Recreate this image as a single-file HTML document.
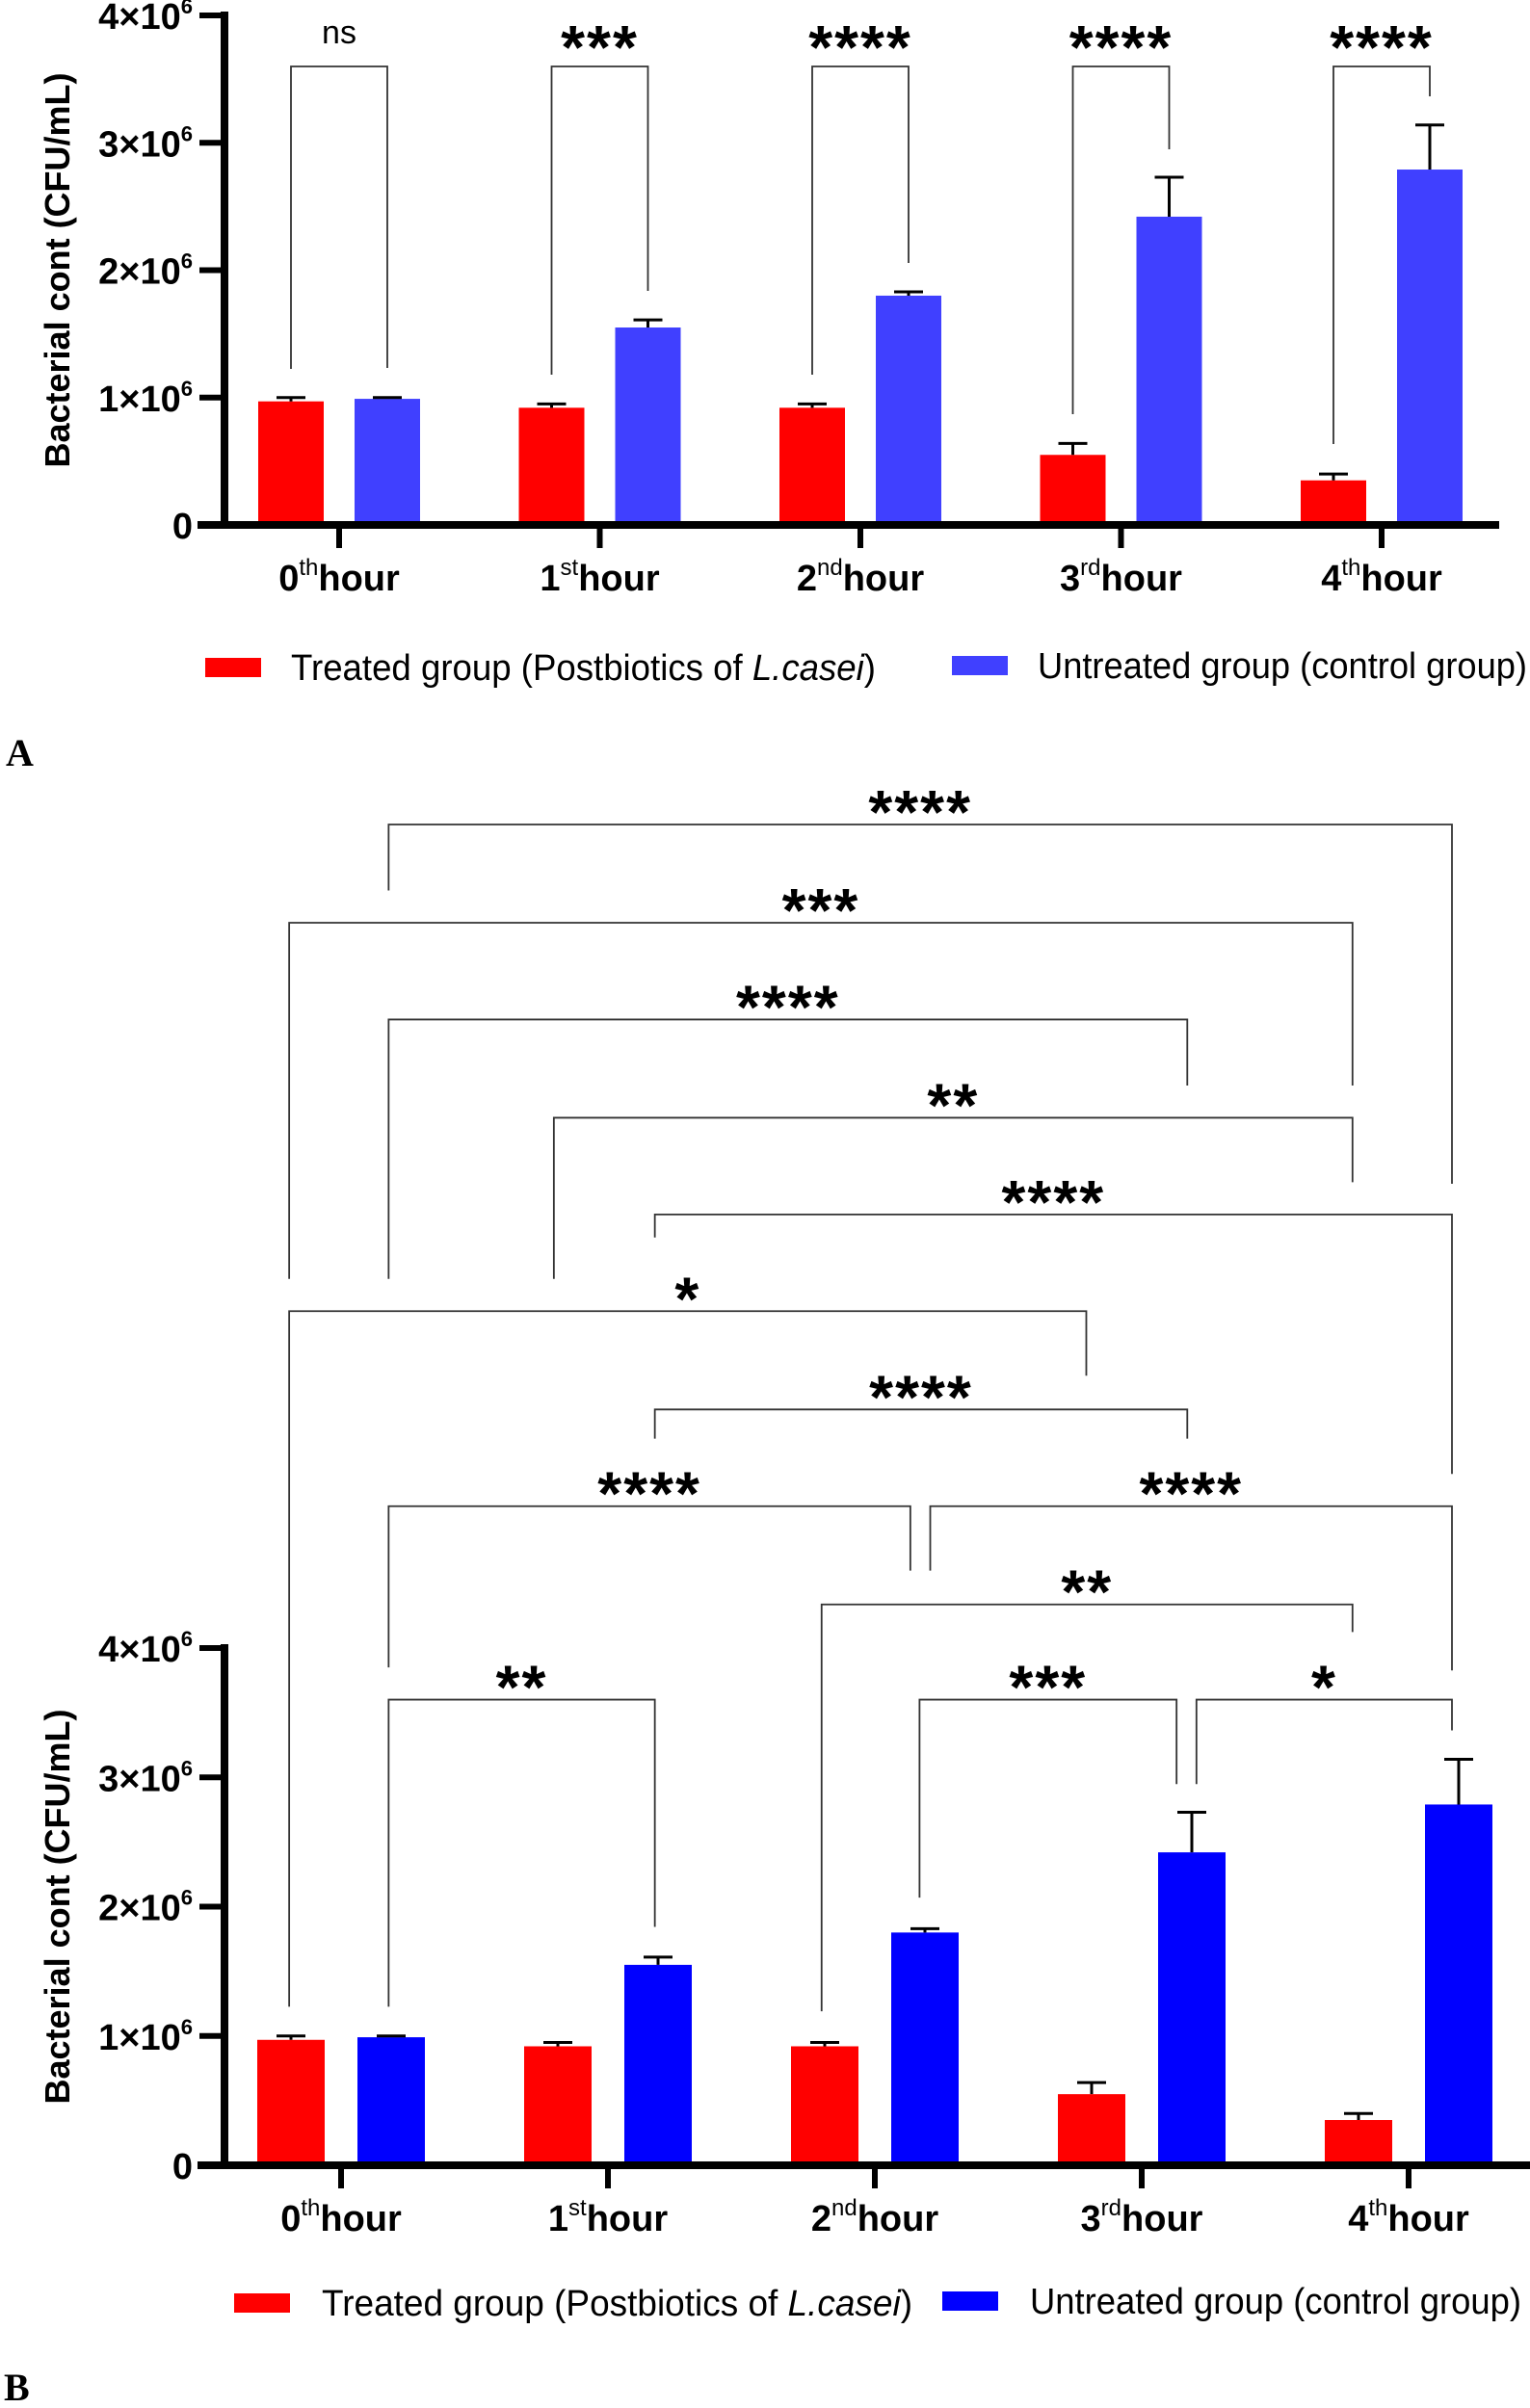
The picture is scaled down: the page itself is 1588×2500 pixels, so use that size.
<!DOCTYPE html>
<html><head><meta charset="utf-8"><style>
html,body{margin:0;padding:0;background:#fff;}
svg{display:block;}
text{font-family:"Liberation Sans Narrow","Liberation Sans",sans-serif;}
</style></head><body>
<svg id="fig" width="1588" height="2500" viewBox="0 0 1588 2500"></svg>
<script>
const categories = ["0","1","2","3","4"];
const sups = ["th","st","nd","rd","th"];
const treatedMean = [0.97, 0.92, 0.92, 0.55, 0.35];
const treatedErr = [0.03, 0.03, 0.03, 0.09, 0.05];
const controlMean = [0.99, 1.55, 1.80, 2.42, 2.79];
const controlErr = [0.01, 0.06, 0.03, 0.31, 0.35];
const yTicks = [0, 1, 2, 3, 4];
const yTickLabels = ["0","1×10","2×10","3×10","4×10"];
const sigA = ["ns","***","****","****","****"];

const NS = "http://www.w3.org/2000/svg";
const svg = document.getElementById("fig");
function mk(tag, attrs, parent){const e=document.createElementNS(NS,tag);for(const k in attrs)e.setAttribute(k,attrs[k]);(parent||svg).appendChild(e);return e;}

function drawPanel(cfg){
  const g = mk("g",{});
  
  
  const y = v => cfg.y0 - v*(cfg.y0-cfg.y4)/4;
  const gx = i => cfg.gx0 + i*cfg.gstep;
  categories.forEach((c,i)=>{
    const series=[[treatedMean,treatedErr,"#ff0000",-cfg.off,"treated"],[controlMean,controlErr,cfg.blue,cfg.off,"control"]];
    series.forEach(s=>{
      const cx=gx(i)+s[3], v=s[0][i], e=s[1][i];
      const r=mk("rect",{x:cx-cfg.bw/2,y:y(v),width:cfg.bw,height:cfg.y0-y(v),fill:s[2]},g);
      
      
      const eb=mk("path",{d:`M${cx},${y(v)} V${y(v+e)} M${cx-15},${y(v+e)} H${cx+15}`,stroke:"#000","stroke-width":3,fill:"none"},g);
      
      
    });
  });
  const ax=mk("path",{d:`M233,${cfg.y4-4} V${cfg.y0+4} M205,${cfg.y0} H${cfg.xEnd}`,stroke:"#000","stroke-width":8,fill:"none"},g);
  
  yTicks.forEach((t,i)=>{
    mk("path",{d:`M207,${y(t)} H233`,stroke:"#000","stroke-width":6},g);
    const tx=mk("text",{x:200,y:y(t)+14,"text-anchor":"end","font-size":38,"font-weight":"bold"},g);
    
    tx.textContent=yTickLabels[i];
    if(t>0){const sp=mk("tspan",{dy:-16,"font-size":22},tx);sp.textContent="6";}
  });
  categories.forEach((c,i)=>{
    mk("path",{d:`M${gx(i)},${cfg.y0} V${cfg.y0+24}`,stroke:"#000","stroke-width":6},g);
    const t=mk("text",{x:gx(i),y:cfg.y0+68,"text-anchor":"middle","font-size":38,"font-weight":"bold"},g);
    
    t.appendChild(document.createTextNode(c));
    const s=mk("tspan",{dy:-16,"font-size":24,"font-weight":"normal"},t);s.textContent=sups[i];
    const h=mk("tspan",{dy:16},t);h.textContent="hour";
  });
  const yt=mk("text",{x:0,y:0,"text-anchor":"middle","font-size":36,"font-weight":"bold",transform:`translate(72,${(cfg.y0+cfg.y4)/2}) rotate(-90)`,style:'font-family:"Liberation Sans",sans-serif'},g);
  
  yt.textContent="Bacterial cont (CFU/mL)";
  const L=cfg.leg;
  const r1=mk("rect",{x:L.r,y:L.y-10,width:58,height:20,fill:"#ff0000"},g);
  
  const t1=mk("text",{x:L.rt,y:L.y+13,"font-size":38,textLength:L.rtl,lengthAdjust:"spacingAndGlyphs"},g);
  
  t1.innerHTML='Treated group (Postbiotics of <tspan font-style="italic">L.casei</tspan>)';
  const r2=mk("rect",{x:L.b,y:L.y-12,width:58,height:20,fill:cfg.blue},g);
  
  const t2=mk("text",{x:L.bt,y:L.y+11,"font-size":38,textLength:L.btl,lengthAdjust:"spacingAndGlyphs"},g);
  
  t2.textContent="Untreated group (control group)";
  return {g,y,gx};
}
function bracket(g,x1,y1,x2,y2,yl,label,dy){
  const p=mk("path",{d:`M${x1},${y1} V${yl} H${x2} V${y2}`,stroke:"#333","stroke-width":1.8,fill:"none"},g);
  
  let t;
  if(label==="ns"){
    t=mk("text",{x:(x1+x2)/2,y:yl-24,"text-anchor":"middle","font-size":34,style:'font-family:"Liberation Sans",sans-serif'},g);
  } else {
    t=mk("text",{x:(x1+x2)/2,y:yl+dy,"text-anchor":"middle","font-size":64,"font-weight":"bold","letter-spacing":2,style:'font-family:"Liberation Sans",sans-serif'},g);
  }
  
  t.textContent=label;
}

// Panel A
const A=drawPanel({name:"panel-a-chart",y0:545,y4:16,gx0:352,gstep:270.5,off:50,bw:68,blue:"#4040ff",xEnd:1556,
  leg:{y:693,r:213,rt:302,rtl:607,b:988,bt:1077,btl:508}});
const legA=[383,389,389,430,461], legB=[382,302,273,155,100];
categories.forEach((c,i)=>bracket(A.g,A.gx(i)-50,legA[i],A.gx(i)+50,legB[i],69,sigA[i],2));
const la=mk("text",{x:6,y:795,"font-size":40,"font-weight":"bold",style:'font-family:"Liberation Serif",serif'});
la.textContent="A";

// Panel B
const B=drawPanel({name:"panel-b-chart",y0:2248,y4:1711,gx0:354,gstep:277,off:52,bw:70,blue:"#0000ff",xEnd:1588,
  leg:{y:2391,r:243,rt:334,rtl:613,b:978,bt:1069,btl:510}});
const sx=1.588, sy=1.594;
const br=[[254,580,949,771,537,"****"],[189,833,884,707,601,"***"],[254,833,776,707,664,"****"],[362,833,884,770,728,"**"],
 [428,806,949,960,791,"****"],[189,1307,710,896,854,"*"],[428,937,776,937,918,"****"],[254,1086,595,1023,981,"****"],
 [608,1023,949,1088,981,"****"],[537,1310,884,1063,1045,"**"],[254,1307,428,1255,1107,"**"],[601,1236,769,1162,1107,"***"],[782,1162,949,1127,1107,"*"]];
br.forEach(b=>{
  bracket(B.g,b[0]*sx,b[1]*sy,b[2]*sx,b[3]*sy,b[4]*sy,b[5],9);
});
const lb=mk("text",{x:4,y:2492,"font-size":40,"font-weight":"bold",style:'font-family:"Liberation Serif",serif'});
lb.textContent="B";
</script>
</body></html>
